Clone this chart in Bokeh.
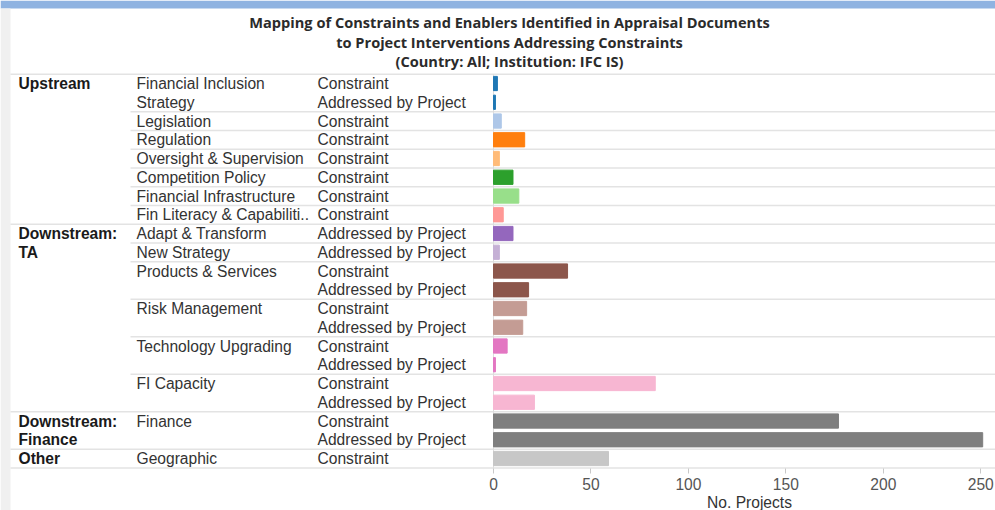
from bokeh.plotting import figure
from bokeh.models import Range1d, LinearAxis, FixedTicker, Label, ColumnDataSource
from bokeh.core.properties import value
from bokeh.embed import file_html
from bokeh.resources import INLINE

# ---------------- data ----------------
title_lines = [
    "Mapping of Constraints and Enablers Identified in Appraisal Documents",
    "to Project Interventions Addressing Constraints",
    "(Country: All; Institution: IFC IS)",
]

level1 = (["Upstream"] * 8 + ["Downstream: TA"] * 10 +
          ["Downstream: Finance"] * 2 + ["Other"])
level2 = (["Financial Inclusion Strategy"] * 2 +
          ["Legislation", "Regulation", "Oversight & Supervision",
           "Competition Policy", "Financial Infrastructure",
           "Fin Literacy & Capabiliti.."] +
          ["Adapt & Transform", "New Strategy"] +
          ["Products & Services"] * 2 + ["Risk Management"] * 2 +
          ["Technology Upgrading"] * 2 + ["FI Capacity"] * 2 +
          ["Finance"] * 2 + ["Geographic"])
measure = ["Constraint", "Addressed by Project",
           "Constraint", "Constraint", "Constraint", "Constraint", "Constraint", "Constraint",
           "Addressed by Project", "Addressed by Project",
           "Constraint", "Addressed by Project",
           "Constraint", "Addressed by Project",
           "Constraint", "Addressed by Project",
           "Constraint", "Addressed by Project",
           "Constraint", "Addressed by Project",
           "Constraint"]
projects = [2, 1, 4, 16, 3, 10, 13, 5, 10, 3, 38, 18, 17, 15, 7, 1, 83, 21, 177, 251, 59]

level2_colors = {
    "Financial Inclusion Strategy": "#1f77b4",
    "Legislation": "#aec7e8",
    "Regulation": "#ff7f0e",
    "Oversight & Supervision": "#ffbb78",
    "Competition Policy": "#2ca02c",
    "Financial Infrastructure": "#98df8a",
    "Fin Literacy & Capabiliti..": "#ff9896",
    "Adapt & Transform": "#9467bd",
    "New Strategy": "#c5b0d5",
    "Products & Services": "#8c564b",
    "Risk Management": "#c49c94",
    "Technology Upgrading": "#e377c2",
    "FI Capacity": "#f7b6d2",
    "Finance": "#7f7f7f",
    "Geographic": "#c7c7c7",
}
wrapped = {
    "Downstream: TA": ["Downstream:", "TA"],
    "Downstream: Finance": ["Downstream:", "Finance"],
    "Financial Inclusion Strategy": ["Financial Inclusion", "Strategy"],
}
tick_values = [0, 50, 100, 150, 200, 250]
axis_title = "No. Projects"

# ---------------- geometry helpers (canvas px -> data) ----------------
X0_PX, PX_PER_UNIT = 493.0, 1.949
ROW0_PX, ROW_PX = 83.0, 18.75


def px2x(px):
    return (px - X0_PX) / PX_PER_UNIT


def py2y(py):
    return (ROW0_PX - py) / ROW_PX


W, H = 995, 510
p = figure(width=W, height=H, output_backend="svg", toolbar_location=None,
           x_axis_location=None, y_axis_location=None,
           min_border=0, outline_line_color=None,
           background_fill_color="white", border_fill_color="white")
p.x_range = Range1d(px2x(0), px2x(W))
p.y_range = Range1d(py2y(H), py2y(0))
p.grid.visible = False

# window chrome of the original screenshot
p.quad(left=[px2x(0)], right=[px2x(W)], top=[py2y(0)], bottom=[py2y(8)],
       fill_color="#8fb3e1", line_color=None)
p.quad(left=[px2x(0)], right=[px2x(10)], top=[py2y(8)], bottom=[py2y(H)],
       fill_color="#f0f0f0", line_color=None)

n = len(projects)
ys = [-i for i in range(n)]
colors = [level2_colors[c] for c in level2]
src = ColumnDataSource(dict(y=ys, projects=projects, color=colors))

# separators
x_right = px2x(W)
seg_x0, seg_y = [], []
for i in range(n + 1):
    yb = -(i - 0.5)
    if i == 0 or i == n or level1[i] != level1[i - 1]:
        seg_x0.append(px2x(10))
        seg_y.append(yb)
    elif level2[i] != level2[i - 1]:
        seg_x0.append(px2x(130))
        seg_y.append(yb)
p.segment(x0=seg_x0, y0=seg_y, x1=[x_right] * len(seg_y), y1=seg_y,
          line_color="#e3e3e3", line_width=1.5)
p.segment(x0=[0], y0=[0.5], x1=[0], y1=[-(n - 0.5)], line_color="#dcdcdc", line_width=1)

p.hbar(y="y", left=0, right="projects", height=0.76, color="color", source=src)

FONT = value("Liberation Sans")
FS = "15.6px"

# row header text
t1x, t1y, t1 = [], [], []
t2x, t2y, t2 = [], [], []
for i in range(n):
    if i == 0 or level1[i] != level1[i - 1]:
        for k, line in enumerate(wrapped.get(level1[i], [level1[i]])):
            t1.append(line); t1y.append(-(i + k)); t1x.append(px2x(18))
    if i == 0 or level2[i] != level2[i - 1] or level1[i] != level1[i - 1]:
        for k, line in enumerate(wrapped.get(level2[i], [level2[i]])):
            t2.append(line); t2y.append(-(i + k)); t2x.append(px2x(136))
p.text(x=t1x, y=t1y, text=t1, text_font=FONT, text_font_size=FS,
       text_font_style="bold", text_color="#1a1a1a", text_baseline="middle")
p.text(x=t2x, y=t2y, text=t2, text_font=FONT, text_font_size=FS,
       text_color="#333333", text_baseline="middle")
p.text(x=[px2x(317)] * n, y=ys, text=measure, text_font=FONT, text_font_size=FS,
       text_color="#333333", text_baseline="middle")

# title
p.text(x=[px2x(509)] * 3, y=[py2y(21), py2y(41), py2y(60)], text=title_lines,
       text_font=value("Open Sans"), text_font_size="14.6px", text_font_style="bold",
       text_color="#2b2b2b", text_align="center", text_baseline="middle")

axis = LinearAxis(ticker=FixedTicker(ticks=tick_values), axis_line_color=None,
                  fixed_location=py2y(468),
                  major_tick_line_color="#c8c8c8", major_tick_in=0, major_tick_out=5,
                  minor_tick_line_color=None,
                  major_label_text_font="Liberation Sans",
                  major_label_text_font_size=FS, major_label_text_color="#555555",
                  major_label_standoff=4)
p.add_layout(axis, "below")

p.add_layout(Label(x=px2x(749), y=py2y(502), text=axis_title,
                   text_font="Liberation Sans", text_font_size=FS,
                   text_color="#333333", text_align="center", text_baseline="middle"))

open("out.html", "w").write(file_html(p, INLINE))
